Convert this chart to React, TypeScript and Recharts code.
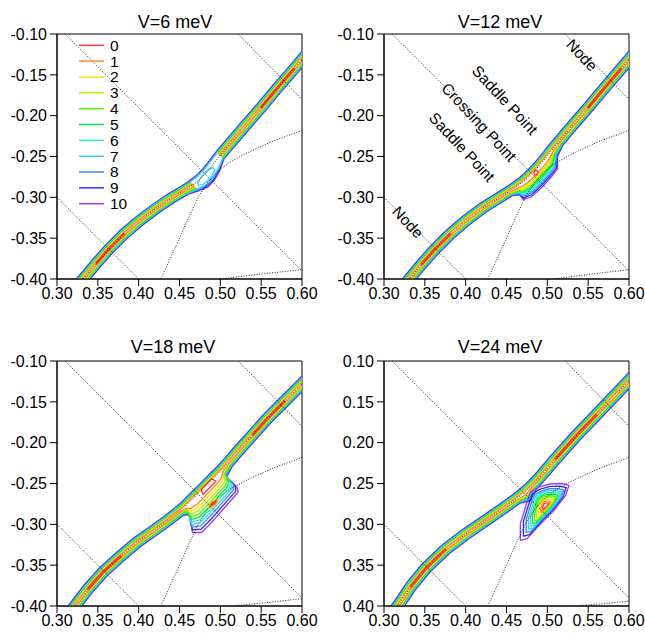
import React from "react";
import { ComposedChart, Line, XAxis, YAxis, ReferenceArea } from "recharts";

type Pt = [number, number];
type Island = { center: Pt; ring: Pt[]; levels: number[] };

const FONT = "'Liberation Sans', Arial, Helvetica, sans-serif";

// contour levels 0..10, rainbow from red to violet
const LEVEL_NAMES = ["0", "1", "2", "3", "4", "5", "6", "7", "8", "9", "10"];
const LEVEL_COLORS = [
  "#ff3c3c", "#ff8a2a", "#ffe000", "#b0f000", "#50f000", "#00e838",
  "#28f0c0", "#30d4ff", "#3c86ff", "#2e2ef5", "#9a3cff",
];
// where each level sits between ridge (0) and outer contour (1)
const BAND_FRAC = [0.14, 0.23, 0.32, 0.41, 0.5, 0.58, 0.66, 0.74, 0.82, 0.91, 1];
const ISLAND_FRAC = [0.12, 0.2, 0.28, 0.36, 0.44, 0.52, 0.6, 0.68, 0.77, 0.88, 1];

const X_TICKS = [0.3, 0.35, 0.4, 0.45, 0.5, 0.55, 0.6];
const Y_TICKS = [-0.4, -0.35, -0.3, -0.25, -0.2, -0.15, -0.1];

// dotted guide curves
const crossingLine: Pt[] = [[0.31, -0.1], [0.6, -0.39]];
const nodeLow: Pt[] = [[0.3, -0.3], [0.4, -0.4]];
const nodeHigh: Pt[] = [[0.522, -0.1], [0.6, -0.18]];
const saddleCurve: Pt[] = [
  [0.427, -0.4], [0.445, -0.361], [0.462, -0.323], [0.474, -0.298], [0.485, -0.281],
  [0.497, -0.268], [0.51, -0.258], [0.53, -0.247], [0.56, -0.233], [0.6, -0.218],
];

// ---- V = 6 meV
const p1Ridge: Pt[] = [
  [0.32, -0.414], [0.333, -0.399], [0.348, -0.381], [0.363, -0.364], [0.382, -0.345],
  [0.402, -0.328], [0.422, -0.313], [0.44, -0.301], [0.455, -0.292], [0.466, -0.285],
  [0.475, -0.278], [0.483, -0.27], [0.491, -0.26], [0.5, -0.248], [0.512, -0.234],
  [0.53, -0.213], [0.55, -0.19], [0.57, -0.166], [0.59, -0.143], [0.612, -0.117],
];
const p1Lobe: Record<number, Pt> = {
  9: [0.4725, -0.2925], 10: [0.4845, -0.2875], 11: [0.4925, -0.2795], 12: [0.499, -0.268],
};
const p1Red: Pt[] = [[2, 4], [16, 18]];
const p1Islands: Island[] = [
  {
    center: [0.483, -0.275], levels: [7],
    ring: [[0.473, -0.285], [0.479, -0.2845], [0.488, -0.276], [0.4935, -0.267], [0.491, -0.2635],
      [0.485, -0.266], [0.477, -0.2745], [0.4725, -0.282]],
  },
];
const p1Edge: Pt[] = [[0.5, -0.4], [0.55, -0.394], [0.6, -0.3885]];

// ---- V = 12 meV
const p2Ridge: Pt[] = [
  [0.318, -0.416], [0.331, -0.4], [0.346, -0.382], [0.362, -0.364], [0.381, -0.345],
  [0.401, -0.328], [0.421, -0.313], [0.44, -0.301], [0.453, -0.293], [0.462, -0.287],
  [0.47, -0.281], [0.477, -0.275], [0.484, -0.268], [0.491, -0.26], [0.498, -0.252],
  [0.504, -0.244], [0.514, -0.232], [0.53, -0.213], [0.55, -0.19], [0.57, -0.166],
  [0.59, -0.143], [0.612, -0.117],
];
const p2Lobe: Record<number, Pt> = {
  9: [0.466, -0.297], 10: [0.4705, -0.303], 11: [0.481, -0.299], 12: [0.494, -0.287],
  13: [0.505, -0.275], 14: [0.5125, -0.265], 15: [0.5125, -0.25],
};
const p2Red: Pt[] = [[2, 4], [18, 20]];
const p2Islands: Island[] = [
  {
    center: [0.486, -0.27], levels: [0],
    ring: [[0.4835, -0.2705], [0.4845, -0.2675], [0.4875, -0.2672], [0.4887, -0.2698],
      [0.4876, -0.2726], [0.4846, -0.2727]],
  },
];
const p2Edge: Pt[] = [[0.507, -0.4], [0.55, -0.3945], [0.6, -0.3885]];

// ---- V = 18 meV
const p3Ridge: Pt[] = [
  [0.31, -0.416], [0.322, -0.4], [0.338, -0.379], [0.357, -0.358], [0.378, -0.339],
  [0.398, -0.322], [0.418, -0.308], [0.436, -0.295], [0.45, -0.284], [0.457, -0.278],
  [0.463, -0.272], [0.47, -0.265], [0.477, -0.258], [0.484, -0.251], [0.49, -0.245],
  [0.496, -0.239], [0.502, -0.233], [0.51, -0.224], [0.522, -0.21], [0.54, -0.19],
  [0.558, -0.17], [0.579, -0.149], [0.6, -0.128], [0.612, -0.116],
];
const p3Lobe: Record<number, Pt> = {
  9: [0.462, -0.2885], 10: [0.466, -0.31], 11: [0.477, -0.31], 12: [0.49, -0.297],
  13: [0.504, -0.281], 14: [0.5218, -0.2607], 15: [0.5206, -0.2546], 16: [0.5076, -0.2423],
};
const p3Red: Pt[] = [[2, 4], [12, 14], [19, 21]];
const p3Islands: Island[] = [
  {
    center: [0.4916, -0.2744], levels: [2, 1, 0],
    ring: [[0.486, -0.28], [0.492, -0.278], [0.498, -0.2715], [0.497, -0.269],
      [0.491, -0.2715], [0.485, -0.2775]],
  },
];
const p3Edge: Pt[] = [[0.516, -0.4], [0.56, -0.3955], [0.6, -0.391]];

// ---- V = 24 meV
const p4Ridge: Pt[] = [
  [0.304, -0.416], [0.317, -0.4], [0.333, -0.376], [0.352, -0.353], [0.375, -0.331],
  [0.4, -0.312], [0.425, -0.295], [0.448, -0.279], [0.462, -0.269], [0.472, -0.261],
  [0.482, -0.252], [0.492, -0.241], [0.51, -0.22], [0.535, -0.192], [0.56, -0.166],
  [0.58, -0.145], [0.6, -0.124], [0.612, -0.111],
];
const p4Lobe: Record<number, Pt> = { 9: [0.479, -0.2715] };
const p4Red: Pt[] = [[2, 4], [12, 14]];
const p4Islands: Island[] = [
  {
    center: [0.498, -0.277], levels: [10, 9, 8, 7, 6, 5, 4, 3, 2, 1, 0],
    ring: [[0.467, -0.3197], [0.467, -0.2993], [0.4732, -0.279], [0.4794, -0.2605],
      [0.4896, -0.2544], [0.504, -0.2503], [0.518, -0.25], [0.5264, -0.2523],
      [0.5224, -0.2646], [0.508, -0.283], [0.4916, -0.2993], [0.4753, -0.3176]],
  },
];
const p4Edge: Pt[] = [[0.5345, -0.4], [0.57, -0.397], [0.6, -0.394]];

type Xy = { x: number; y: number };

function bandLoop(ridge: Pt[], half: number, lobe: Record<number, Pt>, f: number, i0: number, i1: number): Xy[] {
  const up: Xy[] = [];
  const lo: Xy[] = [];
  for (let i = i0; i <= i1; i++) {
    const [x, y] = ridge[i];
    up.push({ x: x - half * f, y: y + half * f });
    const L = lobe[i] ?? [x + half, y - half];
    lo.push({ x: x + (L[0] - x) * f, y: y + (L[1] - y) * f });
  }
  return [...up, ...lo.reverse(), up[0]];
}

const toXy = (p: Pt[]) => p.map(([x, y]) => ({ x, y }));

type PanelProps = {
  ridge: Pt[]; half: number; lobe: Record<number, Pt>; red: Pt[]; islands: Island[];
  edge: Pt[]; gap?: { from: number; to: number; below: number }; noMinus?: boolean;
};

function Panel({ ridge, half, lobe, red, islands, edge, gap, noMinus }: PanelProps) {
  const series: { key: string; pts: Xy[]; color: string; dotted?: boolean }[] = [];
  const last = ridge.length - 1;
  for (let k = 10; k >= 0; k--) {
    const f = BAND_FRAC[k];
    if (k === 0) {
      red.forEach(([a, b], j) => series.push({ key: `r${j}`, pts: bandLoop(ridge, half, lobe, f, a, b), color: LEVEL_COLORS[0] }));
      continue;
    }
    if (gap && k < gap.below) {
      series.push({ key: `b${k}a`, pts: bandLoop(ridge, half, lobe, f, 0, gap.from), color: LEVEL_COLORS[k] });
      series.push({ key: `b${k}b`, pts: bandLoop(ridge, half, lobe, f, gap.to, last), color: LEVEL_COLORS[k] });
    } else {
      series.push({ key: `b${k}`, pts: bandLoop(ridge, half, lobe, f, 0, last), color: LEVEL_COLORS[k] });
    }
  }
  islands.forEach((isl, j) => {
    const top = ISLAND_FRAC[isl.levels[0]];
    isl.levels.forEach((k) => {
      const s = ISLAND_FRAC[k] / top;
      const pts = isl.ring.map(([x, y]) => ({
        x: isl.center[0] + (x - isl.center[0]) * s,
        y: isl.center[1] + (y - isl.center[1]) * s,
      }));
      series.push({ key: `i${j}-${k}`, pts: [...pts, pts[0]], color: LEVEL_COLORS[k] });
    });
  });
  const guides = [crossingLine, nodeLow, nodeHigh, saddleCurve, edge, ridge];
  guides.forEach((g, j) => series.push({ key: `g${j}`, pts: toXy(g), color: "#111", dotted: true }));

  const tick = { fill: "#000", fontSize: 16, fontFamily: FONT };
  const fmt = (v: number) => (noMinus ? Math.abs(v) : v).toFixed(2);

  return (
    <ComposedChart width={320} height={310} margin={{ top: 34, right: 18, bottom: 0, left: 0 }}>
      <XAxis type="number" dataKey="x" domain={[0.3, 0.6]} ticks={X_TICKS} allowDataOverflow
        tickFormatter={(v) => Number(v).toFixed(2)} tick={tick} stroke="#000" tickSize={7} tickMargin={2} height={31} />
      <YAxis type="number" dataKey="y" domain={[-0.4, -0.1]} ticks={Y_TICKS} allowDataOverflow
        tickFormatter={(v) => fmt(Number(v))} tick={tick} stroke="#000" tickSize={7} tickMargin={3} width={57} />
      {series.map((s) => (
        <Line key={s.key} data={s.pts} dataKey="y" stroke={s.color} strokeWidth={s.dotted ? 0.9 : 1.35}
          strokeDasharray={s.dotted ? "1 1.6" : undefined} dot={false} activeDot={false}
          isAnimationActive={false} legendType="none" />
      ))}
      <ReferenceArea x1={0.3} x2={0.6} y1={-0.4} y2={-0.1} fill="none" fillOpacity={0} stroke="#000" strokeWidth={1} />
    </ComposedChart>
  );
}

const NOTES: { text: string; x: number; y: number }[] = [
  { text: "Node", x: 582, y: 55 },
  { text: "Saddle Point", x: 505, y: 100 },
  { text: "Crossing Point", x: 479, y: 122 },
  { text: "Saddle Point", x: 462, y: 147 },
  { text: "Node", x: 408, y: 222 },
];

const TITLES: { text: string; x: number; y: number }[] = [
  { text: "V=6 meV", x: 175, y: 28 },
  { text: "V=12 meV", x: 500, y: 28 },
  { text: "V=18 meV", x: 173, y: 353 },
  { text: "V=24 meV", x: 500, y: 353 },
];

export default function App() {
  return (
    <div style={{ position: "absolute", left: 0, top: 0, width: 645, height: 635, overflow: "hidden", background: "#fff", fontFamily: FONT }}>
      <div style={{ position: "absolute", left: 0, top: 0 }}>
        <Panel ridge={p1Ridge} half={0.0046} lobe={p1Lobe} red={p1Red} islands={p1Islands} edge={p1Edge}
          gap={{ from: 9, to: 13, below: 7 }} />
      </div>
      <div style={{ position: "absolute", left: 327, top: 0 }}>
        <Panel ridge={p2Ridge} half={0.0047} lobe={p2Lobe} red={p2Red} islands={p2Islands} edge={p2Edge} />
      </div>
      <div style={{ position: "absolute", left: 0, top: 327 }}>
        <Panel ridge={p3Ridge} half={0.0048} lobe={p3Lobe} red={p3Red} islands={p3Islands} edge={p3Edge} />
      </div>
      <div style={{ position: "absolute", left: 327, top: 327 }}>
        <Panel ridge={p4Ridge} half={0.0049} lobe={p4Lobe} red={p4Red} islands={p4Islands} edge={p4Edge} noMinus />
      </div>
      <svg width={645} height={635} style={{ position: "absolute", left: 0, top: 0, pointerEvents: "none" }}>
        {TITLES.map((t) => (
          <text key={t.text} x={t.x} y={t.y} textAnchor="middle" fontSize={18} fontFamily={FONT} fill="#000">{t.text}</text>
        ))}
        {LEVEL_NAMES.map((name, i) => (
          <g key={name}>
            <line x1={79} x2={104} y1={45.3 + i * 15.84} y2={45.3 + i * 15.84} stroke={LEVEL_COLORS[i]} strokeWidth={1.5} />
            <text x={110} y={45.3 + i * 15.84 + 5.4} fontSize={15.5} fontFamily={FONT} fill="#000">{name}</text>
          </g>
        ))}
        {NOTES.map((n, i) => (
          <text key={i} x={n.x} y={n.y} textAnchor="middle" dominantBaseline="central" fontSize={15.5}
            fontFamily={FONT} fill="#000" transform={`rotate(47 ${n.x} ${n.y})`}>{n.text}</text>
        ))}
      </svg>
    </div>
  );
}
